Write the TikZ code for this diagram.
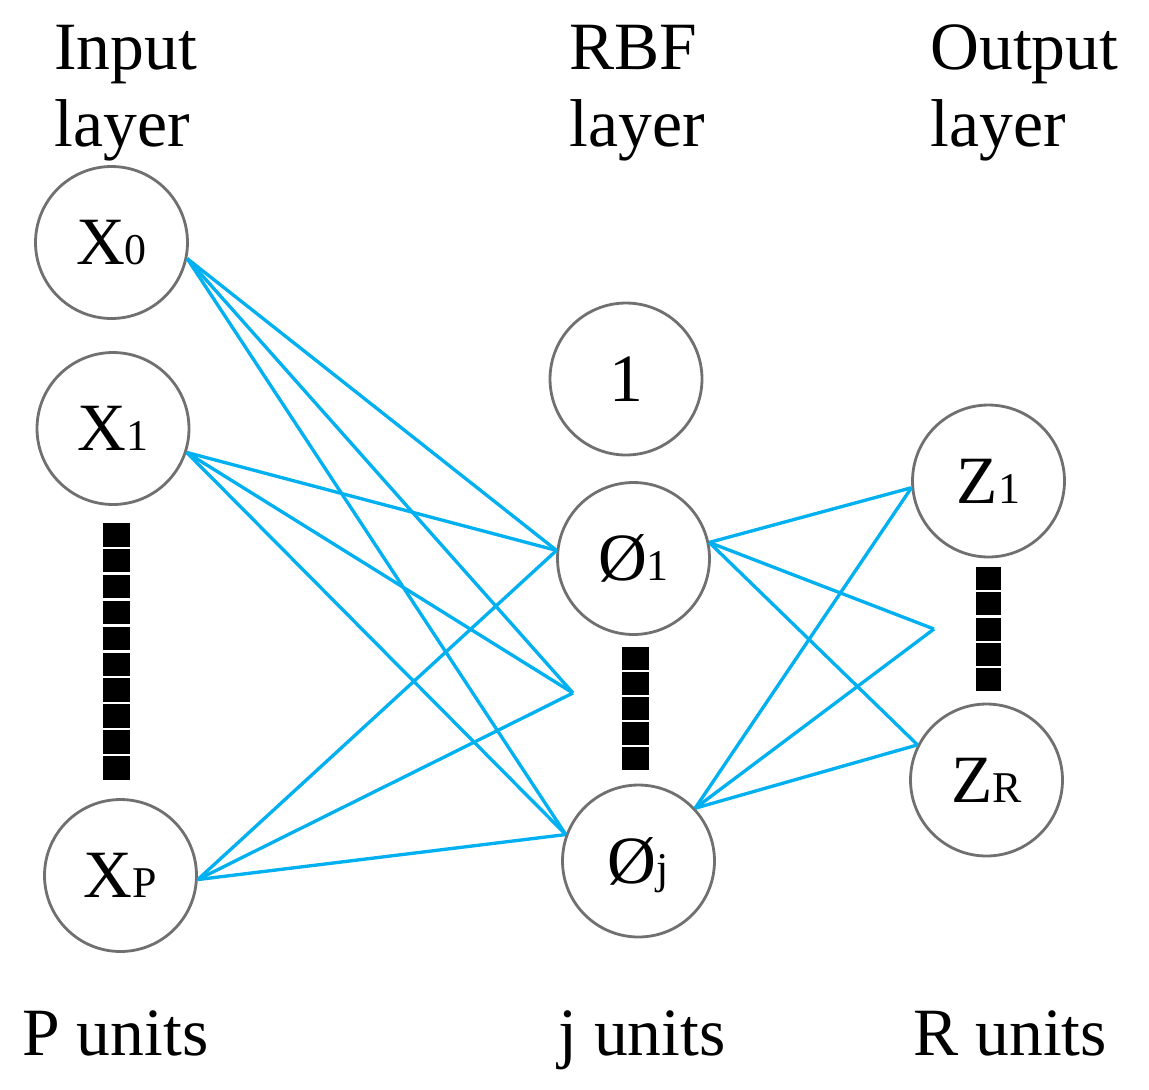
\documentclass[tikz,border=0pt]{standalone}
\usepackage{fontspec}
\setmainfont{Liberation Serif}
\definecolor{linkblue}{RGB}{0,176,240}
\definecolor{unitgray}{RGB}{112,112,112}
\newcommand{\unitfont}{\fontsize{38.5}{43.6}\selectfont}
\newcommand{\indexfont}{\fontsize{25}{27}\selectfont}
\tikzset{
	unit/.style={circle,draw=unitgray,line width=1.6pt,minimum size=3.04cm,inner sep=0pt,
		text height=25.5pt,text depth=0pt,font=\unitfont},
	link/.style={draw=linkblue,line width=1.9pt},
	caption/.style={inner sep=0pt,align=left,anchor=base west,font=\unitfont},
}
\begin{document}
\begin{tikzpicture}[x=0.02cm,y=-0.02cm]
	\useasboundingbox (0,0) rectangle (1149,1089);
	\node[caption] (inputcap) at (54,146) {Input\\layer};
	\node[caption] (rbfcap) at (569,146) {RBF\\layer};
	\node[caption] (outputcap) at (930,146) {Output\\layer};
	\node[caption] (punits) at (22,1055) {P units};
	\node[caption] (junits) at (558,1055) {j units};
	\node[caption] (runits) at (913,1055) {R units};
%%%%%%%%%%%%%%%%%%%%%%%%%%%%%%%%%%%%%%%%%%%%%%%%%%%%%%%%%%%%
	\node[unit] (x0) at (111.5,242.5) {X{\indexfont 0}};
	\node[unit] (x1) at (113,428.5) {X{\indexfont 1}};
	\node[unit] (xp) at (120.5,875.5) {X{\indexfont P}};
	\node[unit] (bias) at (626,379) {1};
	\node[unit] (phi1) at (633.5,558.5) {Ø{\indexfont 1}};
	\node[unit] (phij) at (638.5,861) {Ø{\indexfont j}};
	\node[unit] (z1) at (988.5,481) {Z{\indexfont 1}};
	\node[unit] (zr) at (986.5,780) {Z{\indexfont R}};
	\coordinate (phimid) at (573,693);
	\coordinate (zmid) at (934,629);
%	dotted columns
	\foreach \i in {0,...,9}
		\fill (103,523+25.9*\i) rectangle ++(27,23.5);
	\foreach \i in {0,...,4}
		\fill (622,647+25*\i) rectangle ++(27,23);
	\foreach \i in {0,...,4}
		\fill (976,567+25.3*\i) rectangle ++(25,23);
%%%%%%%%%%%%%%%%%%%%%%%%%%%%%%%%%%%%%%%%%%%%%%%%%%%%%%%%%%%%
	\foreach \s/\a in {x0/-12,x1/-18,xp/-3}
		\foreach \t in {phi1.174,phimid,phij.160}
			\draw[link] (\s.\a) -- (\t);
	\foreach \t in {z1.185,zmid,zr.153}{
		\draw[link] (phi1.12) -- (\t);
		\draw[link] (phij.43) -- (\t);
	}
\end{tikzpicture}
\end{document}
